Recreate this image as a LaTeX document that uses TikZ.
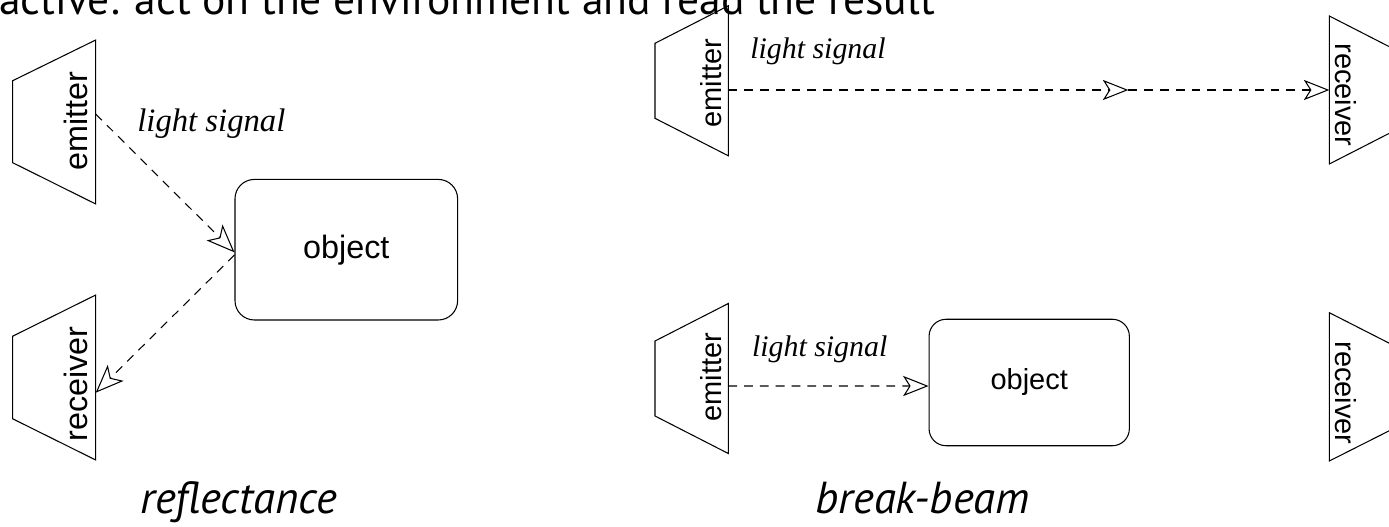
\documentclass[tikz,border=0pt]{standalone}
\usepackage{fontspec}
\setmainfont{Liberation Serif}
\setsansfont{Liberation Sans}
\newfontfamily\slidefont{PT Sans}
\usetikzlibrary{arrows.meta}

\tikzset{
  sensor/.style={line width=0.6pt},
  beam/.style={line width=0.6pt, dash pattern=on 5pt off 4pt,
    -{Stealth[open, length=14.5pt, width=11.5pt, inset=3.6pt]}},
  bigbeam/.style={line width=0.6pt, dash pattern=on 5pt off 4pt,
    -{Stealth[open, length=16pt, width=12.8pt, inset=4pt]}},
  biglbl/.style={font=\sffamily\fontsize{18.4}{20}\selectfont, inner sep=0},
  smalllbl/.style={font=\sffamily\fontsize{16.5}{18}\selectfont, inner sep=0},
  box/.style={draw, line width=0.6pt, rounded corners=#1},
  sig/.style={font=\itshape, anchor=base west, inner sep=0},
  caption/.style={font=\slidefont\itshape\fontsize{25.5}{30}\selectfont, anchor=base west, inner sep=0}
}

\begin{document}
\begin{tikzpicture}[x=0.02cm, y=-0.02cm]
  \useasboundingbox (0,0) rectangle (1389,527);

  % slide heading, cut by the top edge
  \node[anchor=base west, inner sep=0, font=\slidefont\fontsize{24.8}{28}\selectfont]
    (head) at (-1,15) {active: act on the environment and read the result};

  % --- reflectance ---
  % emitter and receiver
  \draw[sensor] (12.7,80.7) -- (95.7,40) -- (95.7,204) -- (12.7,162.7) -- cycle;
  \draw[sensor] (12.7,336.2) -- (95.7,295) -- (95.7,460) -- (12.7,418.8) -- cycle;
  \node[biglbl, rotate=90, anchor=south] (em1) at (88,121) {emitter};
  \node[biglbl, rotate=90, anchor=south] (rc1) at (88,384) {receiver};
  \coordinate (em1out) at (95.7,114);
  \coordinate (rc1in) at (95.7,392.7);

  % object
  \node[box=11pt, biglbl, minimum width=126.7pt, minimum height=80pt]
    (obj1) at (346.3,249.7) {object};

  % light path
  \draw[bigbeam] (em1out) -- ([yshift=-1.5pt]obj1.west);
  \draw[bigbeam] ([yshift=-3pt]obj1.west) -- (rc1in);
  \node[sig, font=\itshape\fontsize{18.6}{20}\selectfont] (sig1) at (137,132) {light signal};

  \node[caption] (refl) at (140,513) {reflectance};

  % --- break-beam, free path ---
  \draw[sensor] (655,43.3) -- (728.3,5.8) -- (728.3,155.8) -- (655,118.3) -- cycle;
  \draw[sensor] (1329.3,16) -- (1402.6,53.5) -- (1402.6,126.5) -- (1329.3,164) -- cycle;
  \node[smalllbl, rotate=90, anchor=south] (em2) at (721.7,83) {emitter};
  \node[smalllbl, rotate=-90, anchor=south] (rc2) at (1335,95) {receiver};
  \coordinate (em2out) at (728.3,90);
  \coordinate (mid2) at (1128.3,90);
  \coordinate (rc2in) at (1329.3,90);

  \draw[beam] (em2out) -- (mid2);
  \draw[beam] (mid2) -- (rc2in);
  \node[sig, font=\itshape\fontsize{17}{19}\selectfont] (sig2) at (750,58.3) {light signal};

  % --- break-beam, blocked path ---
  \draw[sensor] (655,341) -- (728.3,303.5) -- (728.3,453.5) -- (655,416) -- cycle;
  \draw[sensor] (1329.3,312.7) -- (1402.6,350) -- (1402.6,424) -- (1329.3,461) -- cycle;
  \node[smalllbl, rotate=90, anchor=south] (em3) at (721.7,377) {emitter};
  \node[smalllbl, rotate=-90, anchor=south] (rc3) at (1335,393) {receiver};
  \coordinate (em3out) at (728.3,386);

  \node[box=9.7pt, smalllbl, minimum width=114pt, minimum height=72pt]
    (obj2) at (1029.2,382.5) {object};

  \draw[beam] (em3out) -- ([yshift=-2pt]obj2.west);
  \node[sig, font=\itshape\fontsize{17}{19}\selectfont] (sig3) at (751.7,356) {light signal};

  \node[caption] (brk) at (815,513) {break-beam};
\end{tikzpicture}
\end{document}
